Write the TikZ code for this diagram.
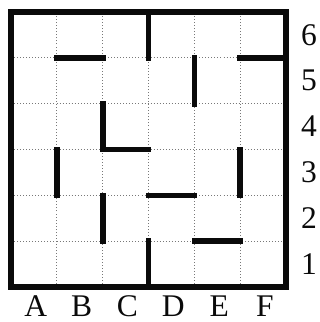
\documentclass[tikz,border=0pt]{standalone}
\usepackage{fontspec}
\setmainfont{Liberation Serif}
\definecolor{mazeink}{RGB}{10,10,10}
\definecolor{griddot}{RGB}{120,120,120}
\tikzset{wall/.style={line width=4.9pt,mazeink,line cap=rect},
  rim/.style={line width=4.8pt,mazeink,line join=miter},
  gridline/.style={griddot,line width=.6pt,dotted},
  labeltext/.style={font=\fontsize{27}{30}\selectfont,text=mazeink,inner sep=0pt}}
\begin{document}
\begin{tikzpicture}[x=1.38cm,y=1.38cm]
\useasboundingbox (-0.239,-0.761) rectangle (6.739,6.261);
\foreach \k in {1,...,5}{
  \draw[gridline] (\k,0) -- (\k,6);
  \draw[gridline] (0,\k) -- (6,\k);
}
\foreach \c [count=\i] in {A,B,C,D,E,F}
  \node[labeltext] (col\c) at (\i-.46,-.41) {\c};
\foreach \r in {1,...,6}
  \node[labeltext] (row\r) at (6.5,\r-.5) {\r};
\draw[wall] (1,5) -- (2,5);
\draw[wall] (3,6) -- (3,5);
\draw[wall] (2,4) -- (2,3) -- (3,3);
\draw[wall] (4,5) -- (4,4);
\draw[wall] (5,5) -- (6,5);
\draw[wall] (1,3) -- (1,2);
\draw[wall] (5,3) -- (5,2);
\draw[wall] (2,2) -- (2,1);
\draw[wall] (3,2) -- (4,2);
\draw[wall] (3,1) -- (3,0);
\draw[wall] (4,1) -- (5,1);
\draw[rim] (0,0) rectangle (6,6);
\end{tikzpicture}
\end{document}
